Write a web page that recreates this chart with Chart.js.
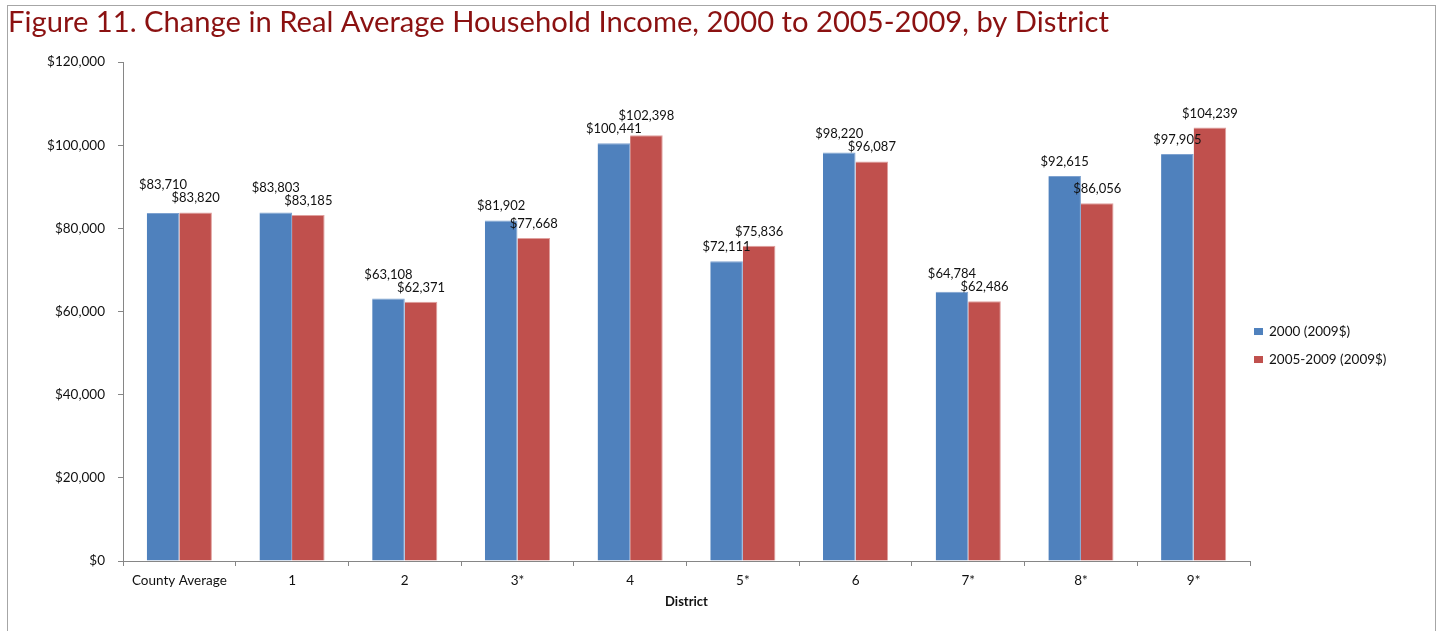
<!DOCTYPE html>
<html>
<head>
<meta charset="utf-8">
<title>Change in Real Average Household Income by District</title>
<script src="https://cdn.jsdelivr.net/npm/chart.js@4.4.0/dist/chart.umd.min.js"></script>
<style>
  html, body { margin: 0; padding: 0; background: #fff; }
  canvas { display: block; }
</style>
</head>
<body>
<canvas id="chart" width="1439" height="631"></canvas>
<script>
// Districts along the horizontal axis
const districts = ['County Average', '1', '2', '3*', '4', '5*', '6', '7*', '8*', '9*'];

// Real average household income, in 2009 dollars
const income2000 = [83710, 83803, 63108, 81902, 100441, 72111, 98220, 64784, 92615, 97905];
const income2005to2009 = [83820, 83185, 62371, 77668, 102398, 75836, 96087, 62486, 86056, 104239];

// Value axis ticks
const yTicks = [0, 20000, 40000, 60000, 80000, 100000, 120000];

const seriesNames = ['2000 (2009$)', '2005-2009 (2009$)'];
const FONT = 'Lato, "Open Sans", sans-serif';
const TEXT_SIZE = 13.5;
const AXIS_GREY = '#868686';

const money = v => '$' + Math.round(v).toLocaleString('en-US');

// White page with a thin grey frame round the figure
const framePlugin = {
  id: 'frame',
  beforeDraw(chart) {
    const ctx = chart.ctx;
    ctx.save();
    ctx.fillStyle = '#fff';
    ctx.fillRect(0, 0, chart.width, chart.height);
    ctx.strokeStyle = '#a6a6a6';
    ctx.lineWidth = 1;
    ctx.strokeRect(7.5, 5.5, chart.width - 11, chart.height + 20);
    ctx.restore();
  }
};

// Value labels above each bar; when the two labels of a pair collide,
// the higher one is lifted clear of the other
const valueLabelPlugin = {
  id: 'valueLabels',
  afterDatasetsDraw(chart) {
    const ctx = chart.ctx;
    const gap = 10, sep = 13;
    const m0 = chart.getDatasetMeta(0), m1 = chart.getDatasetMeta(1);
    ctx.save();
    ctx.font = '13px ' + FONT;
    ctx.fillStyle = '#111';
    ctx.textAlign = 'center';
    ctx.textBaseline = 'alphabetic';
    for (let i = 0; i < districts.length; i++) {
      const b0 = m0.data[i], b1 = m1.data[i];
      const t0 = money(chart.data.datasets[0].data[i]);
      const t1 = money(chart.data.datasets[1].data[i]);
      let y0 = b0.y - gap, y1 = b1.y - gap;
      const w0 = ctx.measureText(t0).width, w1 = ctx.measureText(t1).width;
      const hOverlap = Math.abs(b1.x - b0.x) < (w0 + w1) / 2;
      if (hOverlap && Math.abs(y0 - y1) < sep) {
        if (y0 <= y1 + 0.5) y0 = y1 - sep; else y1 = y0 - sep;
      }
      ctx.fillText(t0, b0.x, y0);
      ctx.fillText(t1, b1.x, y1);
    }
    ctx.restore();
  }
};

// Legend to the right of the plot
const sideLegendPlugin = {
  id: 'sideLegend',
  afterDraw(chart) {
    const ctx = chart.ctx;
    const area = chart.chartArea;
    const x = area.right + 4;
    const yStart = (area.top + area.bottom) / 2 + 20;
    ctx.save();
    ctx.font = TEXT_SIZE + 'px ' + FONT;
    ctx.textBaseline = 'middle';
    ctx.textAlign = 'left';
    chart.data.datasets.forEach((ds, k) => {
      const y = yStart + k * 28;
      ctx.fillStyle = ds.backgroundColor;
      ctx.fillRect(x, y - 3.5, 9, 7);
      ctx.fillStyle = '#111';
      ctx.fillText(ds.label, x + 15, y);
    });
    ctx.restore();
  }
};

new Chart(document.getElementById('chart'), {
  type: 'bar',
  data: {
    labels: districts,
    datasets: [
      {
        label: seriesNames[0],
        data: income2000,
        backgroundColor: '#4F81BD',
        borderColor: '#7EA2D0',
        borderWidth: { top: 1, left: 0, right: 1, bottom: 0 },
        borderSkipped: 'start'
      },
      {
        label: seriesNames[1],
        data: income2005to2009,
        backgroundColor: '#C0504D',
        borderColor: '#E0A09E',
        borderWidth: { top: 1, left: 0, right: 1, bottom: 0 },
        borderSkipped: 'start'
      }
    ]
  },
  options: {
    responsive: false,
    animation: false,
    devicePixelRatio: 1,
    categoryPercentage: 0.578,
    barPercentage: 1.0,
    layout: { padding: { left: 8, right: 189, top: 0, bottom: 0 } },
    plugins: {
      legend: { display: false },
      tooltip: { enabled: false },
      title: {
        display: true,
        text: 'Figure 11. Change in Real Average Household Income, 2000 to 2005-2009, by District',
        align: 'start',
        color: '#8B1111',
        font: { family: FONT, size: 29.2, weight: 'normal' },
        padding: { top: 5, bottom: 22 }
      }
    },
    scales: {
      x: {
        afterFit(scale) { scale.height = 70; },
        border: { display: true, color: AXIS_GREY, width: 1 },
        grid: {
          display: true,
          offset: true,
          drawOnChartArea: false,
          drawTicks: true,
          tickLength: 5,
          color: AXIS_GREY
        },
        ticks: {
          color: '#111',
          font: { family: FONT, size: TEXT_SIZE },
          padding: 7,
          maxRotation: 0,
          autoSkip: false
        },
        title: {
          display: true,
          text: 'District',
          color: '#111',
          font: { family: FONT, size: 13, weight: 'bold' },
          padding: { top: 0, bottom: 21 }
        }
      },
      y: {
        min: yTicks[0],
        max: yTicks[yTicks.length - 1],
        afterFit(scale) { scale.width = 115; },
        afterBuildTicks(scale) { scale.ticks = yTicks.map(v => ({ value: v })); },
        border: { display: true, color: AXIS_GREY, width: 1 },
        grid: {
          display: true,
          drawOnChartArea: false,
          drawTicks: true,
          tickLength: 5,
          color: AXIS_GREY
        },
        ticks: {
          color: '#111',
          font: { family: FONT, size: TEXT_SIZE },
          padding: 13,
          callback: v => money(v)
        }
      }
    }
  },
  plugins: [framePlugin, valueLabelPlugin, sideLegendPlugin]
});
</script>
</body>
</html>
